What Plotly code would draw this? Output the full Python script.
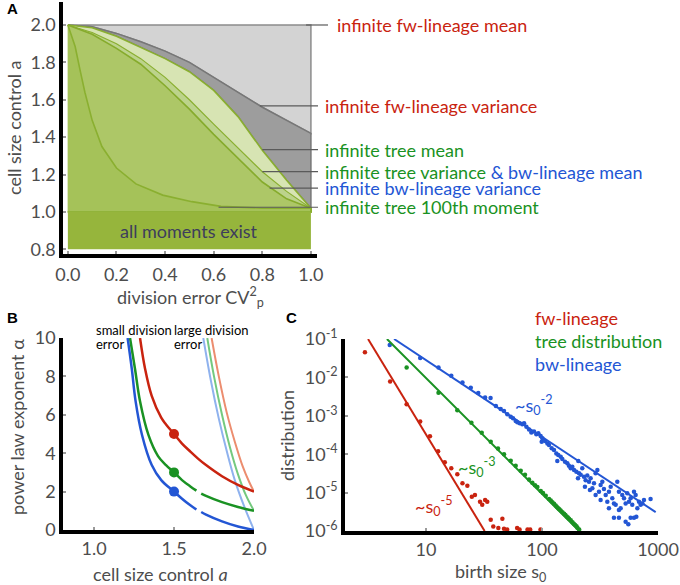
import plotly.graph_objects as go

W, H = 680, 585

# ---------------- panel A: division error CV^2 vs cell size control a ----------------
cv_grid = [0, 0.1, 0.2, 0.3, 0.4, 0.5, 0.6, 0.7, 0.8, 0.9, 1.0]
fw_var_a = [2.0, 1.99, 1.955, 1.91, 1.86, 1.80, 1.72, 1.64, 1.56, 1.49, 1.42]
tree_mean_a = [2.0, 1.985, 1.94, 1.88, 1.82, 1.75, 1.65, 1.51, 1.33, 1.17, 1.02]
tree_var_a = [2.0, 1.96, 1.90, 1.82, 1.72, 1.60, 1.47, 1.34, 1.215, 1.11, 1.02]
bw_var_a = [2.0, 1.95, 1.875, 1.79, 1.675, 1.55, 1.415, 1.285, 1.16, 1.07, 1.02]
m100_cv = [0, 0.03, 0.05, 0.07, 0.1, 0.14, 0.2, 0.28, 0.39, 0.51, 0.63, 0.8, 1.0]
m100_a = [2.0, 1.885, 1.76, 1.64, 1.49, 1.35, 1.235, 1.15, 1.09, 1.055, 1.03, 1.02, 1.02]
box_cv = [0, 1]
box_top = 2.0
band_a = [0.8, 1.0]

# ---------------- panel B: power law exponent vs cell size control ----------------
red_a = [1.2875, 1.319, 1.36, 1.42, 1.45, 1.5, 1.55, 1.6, 1.65, 1.7, 1.8, 1.9, 2.0]
red_alpha = [10, 8.4, 7.0, 5.85, 5.5, 5.0, 4.5, 4.1, 3.72, 3.38, 2.8, 2.35, 2.0]
green_a = [1.225, 1.256, 1.2875, 1.34, 1.4, 1.45, 1.5, 1.55, 1.6, 1.64, None, 1.67, 1.7, 1.8, 1.9, 2.0]
green_alpha = [10, 8.4, 6.7, 4.95, 3.85, 3.38, 3.0, 2.6, 2.28, 2.05, None, 1.9, 1.78, 1.45, 1.2, 1.0]
blue_a = [1.21, 1.236, 1.26, 1.30, 1.36, 1.42, 1.5, 1.55, 1.6, 1.64, None, 1.67, 1.7, 1.8, 1.9, 2.0]
blue_alpha = [10, 8.4, 6.7, 4.95, 3.4, 2.6, 2.0, 1.63, 1.3, 1.07, None, 0.94, 0.8, 0.45, 0.18, 0.0]
red_large_a = [1.735, 1.78, 1.83, 1.88, 1.93, 1.97, 2.0]
red_large_alpha = [10, 8.0, 6.1, 4.6, 3.3, 2.5, 2.0]
green_large_a = [1.708, 1.75, 1.8, 1.85, 1.9, 1.95, 2.0]
green_large_alpha = [10, 8.0, 6.0, 4.3, 2.9, 1.8, 1.0]
blue_large_a = [1.683, 1.73, 1.78, 1.83, 1.88, 1.94, 2.0]
blue_large_alpha = [10, 7.8, 5.8, 4.1, 2.6, 1.2, 0.0]
dot_a = [1.5, 1.5, 1.5]
dot_alpha = [5.0, 3.0, 2.0]

# ---------------- panel C: birth size distributions ----------------
fw_s0 = [2.97, 4.9, 6.8, 8.9, 10.8, 12.7, 14.5, 16.5, 18.6, 20.6, 22.7, 24.8, 26.4, 29.2,
         30.5, 32.3, 33.7, 36.1, 38, 42, 45.5, 47, 50, 61, 64, 75, 79, 97]
fw_p = [4.5e-2, 7.8e-3, 2.0e-3, 7.1e-4, 2.95e-4, 1.2e-4, 6.2e-5, 4.3e-5, 3.0e-5, 1.75e-5,
        1.5e-5, 7.8e-6, 8.7e-6, 5.8e-6, 4.8e-6, 6.4e-6, 5.8e-6, 1.95e-6, 1.3e-6, 1.2e-6,
        2.1e-6, 1.15e-6, 1.1e-6, 1.2e-6, 1.1e-6, 1.1e-6, 1.1e-6, 1.1e-6]
tree_s0 = [6.8, 12.8, 18.6, 24.6, 30.2, 36.1, 41.7, 47, 53.7, 59.3, 65.5, 71.3, 77.2, 82.5,
           87, 91.2, 97.5, 102, 107.7, 115, 119, 122.8, 127, 131, 134, 138, 141, 145, 150,
           155, 159, 163, 167, 171, 177, 183, 188, 193, 198, 202, 209]
tree_p = [1.8e-2, 4.0e-3, 1.4e-3, 6.6e-4, 3.6e-4, 2.1e-4, 1.4e-4, 1.0e-4, 6.8e-5, 5.0e-5,
          3.7e-5, 2.9e-5, 2.2e-5, 1.8e-5, 1.55e-5, 1.4e-5, 1.1e-5, 9.8e-6, 8.3e-6, 6.8e-6,
          6.2e-6, 5.6e-6, 5.1e-6, 4.6e-6, 4.3e-6, 3.9e-6, 3.7e-6, 3.4e-6, 3.1e-6, 2.8e-6,
          2.6e-6, 2.4e-6, 2.25e-6, 2.1e-6, 1.9e-6, 1.7e-6, 1.55e-6, 1.43e-6, 1.32e-6, 1.22e-6, 1.1e-6]
bw_s0 = [4.86, 8.9, 12.8, 16.5, 20.6, 24.3, 28.2, 32.3, 36, 40, 44.0, 47.0, 50.2, 53.7, 56.2,
         59.3, 61.3, 64.2, 67.6, 70.0, 73.3, 77.2, 80.9, 85.3, 89.3, 92.9, 97.3, 100.7, 99.3,
         106.2, 111.2, 114.8, 121.1, 126.8, 132.8, 138.0, 144.9, 135.5, 149.6, 157.8, 165.2,
         170.6, 176.6, 182.4, 188.8, 197.7, 205.6, 208.4, 215.3, 222.3, 230.1, 237.7, 245.5,
         254.1, 262.4, 271.6, 280.5, 289.7, 299.9, 309.7, 319.9, 331.1, 342.0, 354.0, 365.6,
         377.6, 390.8, 403.6, 416.9, 431.5, 445.6, 460.3, 476.4, 492.0, 509.3, 526.0, 543.3,
         562.3, 580.8, 599.8, 620.9, 641.2, 663.7, 685.5, 707.9, 732.8, 756.8, 863, 416.9,
         460.3, 526.0, 554.6, 580.8, 620.9, 650.1, 204.2, 234.4, 258.8, 289.7, 319.9, 377.6, 460.3]
bw_p = [7.0e-2, 3.2e-2, 1.8e-2, 1.1e-2, 7.4e-3, 5.4e-3, 3.9e-3, 3.0e-3, 2.9e-3, 1.8e-3,
        1.5e-3, 1.33e-3, 1.09e-3, 9.5e-4, 8.6e-4, 7.3e-4, 6.8e-4, 6.4e-4, 6.0e-4, 6.4e-4,
        5.2e-4, 4.4e-4, 3.7e-4, 3.9e-4, 3.3e-4, 3.5e-4, 3.0e-4, 2.6e-4, 2.1e-4, 2.2e-4,
        1.9e-4, 1.74e-4, 1.42e-4, 1.29e-4, 1.05e-4, 9.5e-5, 8.6e-5, 6.7e-5, 7.5e-5, 6.4e-5,
        5.8e-5, 5.0e-5, 4.3e-5, 4.7e-5, 3.9e-5, 3.5e-5, 6.7e-5, 3.2e-5, 2.9e-5, 4.3e-5,
        2.6e-5, 2.1e-5, 2.8e-5, 1.93e-5, 2.35e-5, 1.29e-5, 1.74e-5, 3.2e-5, 3.9e-5, 1.06e-5,
        1.58e-5, 1.93e-5, 1.24e-5, 8.7e-6, 5.8e-6, 1.06e-5, 1.43e-5, 7.1e-6, 5.2e-6, 4.8e-6,
        1.93e-5, 1.06e-5, 3.9e-6, 8.7e-6, 7.1e-6, 5.2e-6, 9.6e-6, 5.8e-6, 7.1e-6, 4.8e-6,
        1.06e-5, 8.7e-6, 3.9e-6, 5.8e-6, 4.8e-6, 5.2e-6, 6.4e-6, 6.8e-6, 2.22e-6, 2.22e-6,
        1.75e-6, 1.49e-6, 2.22e-6, 2.22e-6, 2.36e-6, 2.35e-5, 1.43e-5, 1.17e-5, 8.7e-6,
        6.4e-6, 3.9e-6, 3.5e-6]
fw_fit_s0 = [3.16, 32]
fw_fit_p = [1e-1, 1e-6]
tree_fit_s0 = [4.6, 209]
tree_fit_p = [1e-1, 1e-6]
bw_fit_s0 = [5.3, 955]
bw_fit_p = [1e-1, 3.1e-6]

RED, GREEN, BLUE = "#c9230f", "#1a9223", "#2356d4"
FONT = "Lato"
TXT = "#4d4d4d"

fig = go.Figure()

# ---- panel A fills ----
fig.add_trace(go.Scatter(x=box_cv + cv_grid[::-1], y=[box_top, box_top] + fw_var_a[::-1],
                         fill="toself", fillcolor="#d3d3d3", mode="lines",
                         line=dict(color="#8c8c8c", width=1.5), hoverinfo="skip"))
fig.add_trace(go.Scatter(x=cv_grid + cv_grid[::-1], y=fw_var_a + tree_mean_a[::-1],
                         fill="toself", fillcolor="#9d9d9d", mode="lines",
                         line=dict(color="#777777", width=1.5), hoverinfo="skip"))


def green_patch(xs, ys, fillc, linec, lw):
    fig.add_trace(go.Scatter(x=xs + [xs[-1], xs[0]], y=ys + [band_a[1], band_a[1]],
                             fill="toself", fillcolor=fillc, mode="lines",
                             line=dict(color=linec, width=lw), hoverinfo="skip"))


green_patch(cv_grid, tree_mean_a, "#d7e4b3", "#8aaf30", 1.6)
green_patch(cv_grid, tree_var_a, "#bcd38b", "#8aaf30", 1.2)
green_patch(cv_grid, bw_var_a, "#adc767", "#86ab2c", 1.6)
green_patch(m100_cv, m100_a, "#a5c259", "#8aaf30", 1.6)

# ---- panel B ----
def b_line(xs, ys, color, width):
    fig.add_trace(go.Scatter(x=xs, y=ys, mode="lines", line=dict(color=color, width=width, shape="spline"),
                             xaxis="x2", yaxis="y2", hoverinfo="skip", connectgaps=False))


b_line(blue_large_a, blue_large_alpha, "#8fb2ee", 2)
b_line(green_large_a, green_large_alpha, "#74c97f", 2)
b_line(red_large_a, red_large_alpha, "#ec8d6f", 2)
b_line(red_a, red_alpha, RED, 2.5)
b_line(green_a, green_alpha, GREEN, 2.5)
b_line(blue_a, blue_alpha, BLUE, 2.5)
fig.add_trace(go.Scatter(x=dot_a, y=dot_alpha, mode="markers", xaxis="x2", yaxis="y2",
                         marker=dict(size=10, color=[RED, GREEN, BLUE]), hoverinfo="skip"))

# ---- panel C ----
for s0, p, c in [(fw_s0, fw_p, RED), (tree_s0, tree_p, GREEN), (bw_s0, bw_p, BLUE)]:
    fig.add_trace(go.Scatter(x=s0, y=p, mode="markers", xaxis="x3", yaxis="y3",
                             marker=dict(size=4.5, color=c), hoverinfo="skip"))
for s0, p, c in [(fw_fit_s0, fw_fit_p, RED), (tree_fit_s0, tree_fit_p, GREEN), (bw_fit_s0, bw_fit_p, BLUE)]:
    fig.add_trace(go.Scatter(x=s0, y=p, mode="lines", xaxis="x3", yaxis="y3",
                             line=dict(color=c, width=2), hoverinfo="skip"))

# ---- axes ----
A_X = [63 / W, 317 / W]
A_Y = [1 - 254 / H, 1 - 2 / H]
A_XR = [-0.02, 1.025]
A_YR = [0.775, 2.123]


def ax_common(**kw):
    d = dict(showline=True, linecolor="black", linewidth=3.5, ticks="inside", ticklen=3,
             tickwidth=2, tickcolor="#9a9a9a", showgrid=False, zeroline=False,
             tickfont=dict(family=FONT, size=18, color=TXT))
    d.update(kw)
    return d


fig.update_layout(
    xaxis=ax_common(domain=A_X, range=A_XR, anchor="y", tickvals=[0, 0.2, 0.4, 0.6, 0.8, 1.0],
                    tickformat=".1f", ticklabelstandoff=2),
    yaxis=ax_common(domain=A_Y, range=A_YR, anchor="x", tickvals=[0.8, 1.0, 1.2, 1.4, 1.6, 1.8, 2.0],
                    tickformat=".1f"),
    xaxis2=ax_common(domain=[63 / W, 254 / W], range=[0.806, 2.0], anchor="y2",
                     tickvals=[1.0, 1.5, 2.0], tickformat=".1f", ticklabelstandoff=0),
    yaxis2=ax_common(domain=[1 - 530 / H, 1 - 338 / H], range=[0, 10], anchor="x2",
                     tickvals=[0, 2, 4, 6, 8, 10]),
    xaxis3=ax_common(domain=[345 / W, 658 / W], type="log", range=[0.301, 3.0], anchor="y3",
                     tickvals=[10, 100, 1000], ticktext=["10", "100", "1000"], ticklabelstandoff=0),
    yaxis3=ax_common(domain=[1 - 531 / H, 1 - 339 / H], type="log", range=[-6, -1], anchor="x3",
                     tickvals=[1e-6, 1e-5, 1e-4, 1e-3, 1e-2, 1e-1],
                     ticktext=["10<sup>-6</sup>", "10<sup>-5</sup>", "10<sup>-4</sup>",
                               "10<sup>-3</sup>", "10<sup>-2</sup>", "10<sup>-1</sup>"]),
)

fig.add_shape(type="rect", x0=box_cv[0], x1=box_cv[1], y0=band_a[0], y1=band_a[1],
              xref="x", yref="y", fillcolor="#96b53c", line=dict(width=0), layer="above")


def pa_x(v):
    return A_X[0] + (v - A_XR[0]) / (A_XR[1] - A_XR[0]) * (A_X[1] - A_X[0])


def pa_y(v):
    return A_Y[0] + (v - A_YR[0]) / (A_YR[1] - A_YR[0]) * (A_Y[1] - A_Y[0])


# labels of panel A: text, leader start (cv, a), leader end / text start pixel
a_labels = [
    ("infinite fw-lineage mean", RED, 0.98, 2.0, 328, 335),
    ("infinite fw-lineage variance", RED, 0.79, 1.567, 318, 323),
    ("infinite tree mean", GREEN, 0.80, 1.333, 318, 323),
    ("infinite tree variance <span style='color:%s'>&amp; bw-lineage mean</span>" % BLUE, GREEN, 0.80, 1.216, 318, 323),
    ("infinite bw-lineage variance", BLUE, 0.83, 1.127, 318, 323),
    ("infinite tree 100th moment", GREEN, 0.62, 1.025, 318, 323),
]
anns = []
for txt, col, x0, yv, xend, xtxt in a_labels:
    fig.add_shape(type="line", xref="paper", yref="paper", x0=pa_x(x0), x1=xend / W,
                  y0=pa_y(yv), y1=pa_y(yv), line=dict(color="#5a5a5a", width=1.2))
    anns.append(dict(text=txt, x=xtxt / W, y=pa_y(yv), xref="paper", yref="paper",
                     xanchor="left", yanchor="middle", showarrow=False,
                     font=dict(family=FONT, size=18, color=col)))

anns.append(dict(text="all moments exist", x=0.5, y=0.9, xref="x", yref="y", showarrow=False,
                 font=dict(family=FONT, size=18, color="#3d3d5c")))


def pann(text, x, y, size=18, color=TXT, angle=0, xanchor="center", yanchor="middle", family=FONT):
    anns.append(dict(text=text, x=x / W, y=1 - y / H, xref="paper", yref="paper", showarrow=False,
                     textangle=angle, xanchor=xanchor, yanchor=yanchor,
                     font=dict(family=family, size=size, color=color)))


# axis titles
pann("cell size control a", 14, 128, angle=-90)
pann("division error CV<sup>2</sup><sub>p</sub>", 190, 297)
pann("power law exponent \u03b1", 17, 427, angle=-90)
pann("cell size control <i>a</i>", 160, 574)
pann("distribution", 287, 436, angle=-90)
pann("birth size s<sub>0</sub>", 500, 572)

# panel letters
pann("<b>A</b>", 12, 9, size=15, color="black", family="Liberation Sans")
pann("<b>B</b>", 12, 317, size=15, color="black", family="Liberation Sans")
pann("<b>C</b>", 291, 317, size=15, color="black", family="Liberation Sans")

# panel B notes
pann("small division", 94, 330, size=13, color="black", xanchor="left")
pann("error", 94, 344, size=13, color="black", xanchor="left")
pann("large division", 172, 330, size=13, color="black", xanchor="left")
pann("error", 172, 344, size=13, color="black", xanchor="left")

# panel C legend
pann("fw-lineage", 533, 318, color=RED, xanchor="left")
pann("tree distribution", 533, 341, color=GREEN, xanchor="left")
pann("bw-lineage", 533, 364, color=BLUE, xanchor="left")

# slope labels on panel C (log coordinates)
for txt, lx, ly, col in [("~s<sub>0</sub><sup>-2</sup>", 1.93, -2.72, BLUE),
                         ("~s<sub>0</sub><sup>-3</sup>", 1.44, -4.33, GREEN),
                         ("~s<sub>0</sub><sup>-5</sup>", 1.07, -5.35, RED)]:
    anns.append(dict(text=txt, x=lx, y=ly, xref="x3", yref="y3", showarrow=False,
                     font=dict(family=FONT, size=18, color=col)))

fig.update_layout(
    annotations=anns,
    width=W, height=H,
    margin=dict(l=0, r=0, t=0, b=0, autoexpand=False),
    paper_bgcolor="white", plot_bgcolor="white",
    showlegend=False,
    font=dict(family=FONT, color=TXT),
)

# page body has a default 8px margin; drop it so the figure fills the window
fig.write_html("out.html", config={"displayModeBar": False},
               post_script="document.body.style.margin='0px';")
